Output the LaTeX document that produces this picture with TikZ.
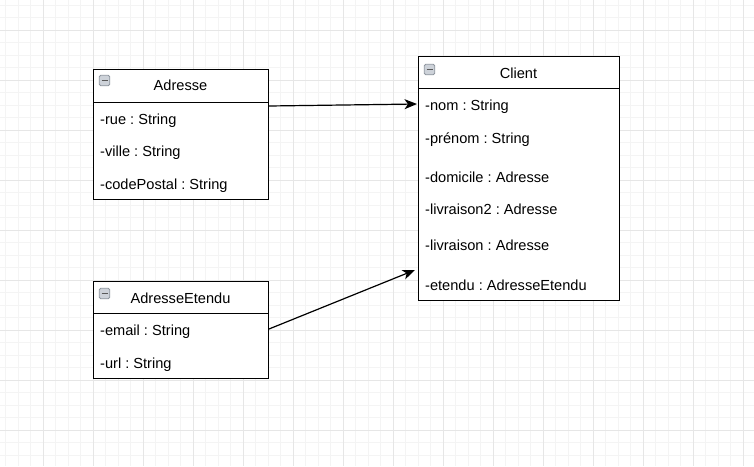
\documentclass[tikz,border=0pt]{standalone}
\usepackage{fontspec}
\setmainfont{Liberation Sans}
\usetikzlibrary{arrows.meta}
\definecolor{minorgrid}{HTML}{F4F4F4}
\definecolor{majorgrid}{HTML}{E6E6E6}
\definecolor{iconfill}{HTML}{CDD2D9}
\definecolor{iconline}{HTML}{8E959E}
\frenchspacing
\begin{document}
\begin{tikzpicture}[x=1pt,y=-1pt,
  umlbox/.style={draw=black,line width=1pt,fill=white,inner sep=0pt,anchor=north west},
  sep/.style={draw=black,line width=1pt},
  txt/.style={inner sep=0pt,font=\fontsize{14.6}{17}\selectfont},
  attr/.style={txt,anchor=base west},
  title/.style={txt,anchor=base},
  icon/.style={draw=iconline,fill=iconfill,rounded corners=1.5pt,minimum size=10.5pt,inner sep=0pt,line width=0.8pt},
  conn/.style={draw=black,line width=1.2pt,-{Stealth[length=12.5pt,width=10pt,inset=3.5pt]}}]
\useasboundingbox (0,0) rectangle (754,466);
\fill[white] (0,0) rectangle (754,466);
% grid
\foreach \i in {0,...,59} \draw[minorgrid,line width=0.8pt] ({5.5+12.5*\i},0) -- ({5.5+12.5*\i},466);
\foreach \i in {0,...,36} \draw[minorgrid,line width=0.8pt] (0,{5+12.5*\i}) -- (754,{5+12.5*\i});
\foreach \i in {0,...,14} \draw[majorgrid,line width=0.8pt] ({43+50*\i},0) -- ({43+50*\i},466);
\foreach \i in {0,...,8} \draw[majorgrid,line width=0.8pt] (0,{30+50*\i}) -- (754,{30+50*\i});

% Adresse
\node[umlbox,minimum width=175pt,minimum height=130pt] (adr) at (93,69) {};
\draw[sep] (93,102) -- (268,102);
\node[icon] (adricon) at (104.5,80.5) {};
\draw[black!65,line width=1.6pt] (101.5,80.5) -- (107.5,80.5);
\node[title] (adrtitle) at (180.5,90.7) {Adresse};
\node[attr] (adr1) at (100,124) {-rue : String};
\node[attr] (adr2) at (100,156.3) {-ville : String};
\node[attr] (adr3) at (100,189) {-codePostal : String};

% AdresseEtendu
\node[umlbox,minimum width=175pt,minimum height=97pt] (ext) at (93,281) {};
\draw[sep] (93,313.5) -- (268,313.5);
\node[icon] (exticon) at (104.5,293.5) {};
\draw[black!65,line width=1.6pt] (101.5,293.5) -- (107.5,293.5);
\node[title] (exttitle) at (180.5,303.3) {AdresseEtendu};
\node[attr] (ext1) at (100,335) {-email : String};
\node[attr] (ext2) at (100,368.3) {-url : String};

% Client
\node[umlbox,minimum width=201pt,minimum height=244pt] (cli) at (418,56) {};
\draw[sep] (418,88.5) -- (619,88.5);
\node[icon] (cliicon) at (429.5,69.5) {};
\draw[black!65,line width=1.6pt] (426.5,69.5) -- (432.5,69.5);
\node[title] (clititle) at (518.5,78.3) {Client};
\node[attr] (cli1) at (425,110) {-nom : String};
\node[attr] (cli2) at (425,143.3) {-prénom : String};
\node[attr] (cli3) at (425,182.7) {-domicile : Adresse};
\node[attr] (cli4) at (425,214) {-livraison2 : Adresse};
\node[attr] (cli5) at (425,250.7) {-livraison : Adresse};
\node[attr] (cli6) at (425,290) {-etendu : AdresseEtendu};

% connectors
\coordinate (tip1) at (417,104);
\coordinate (tip2) at (415,270);
\draw[conn] ([yshift=-37pt]adr.north east) -- (tip1);
\draw[conn] ([yshift=-48pt]ext.north east) -- (tip2);
\end{tikzpicture}
\end{document}
